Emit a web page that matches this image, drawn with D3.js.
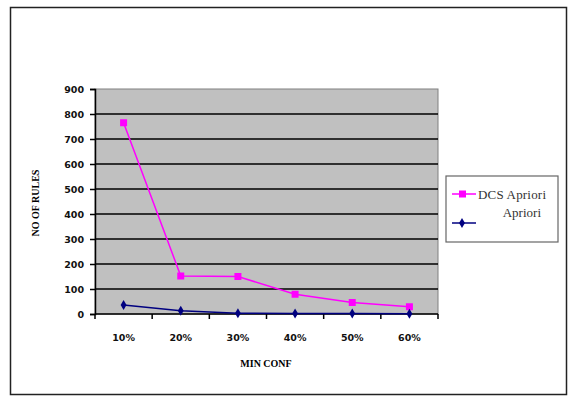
<!DOCTYPE html>
<html>
<head>
<meta charset="utf-8">
<script src="https://cdn.jsdelivr.net/npm/d3@7"></script>
<style>
  body { margin: 0; background: #fff; }
</style>
</head>
<body>
<svg id="chart" width="570" height="396"></svg>
<script>
// chart data
const categories = ['10%', '20%', '30%', '40%', '50%', '60%'];
const dcsApriori = [765, 152, 150, 79, 46, 29];
const apriori = [36, 13, 3, 2, 2, 1];
const yTicks = [0, 100, 200, 300, 400, 500, 600, 700, 800, 900];
const seriesNames = ['DCS Apriori', 'Apriori'];

const svg = d3.select('#chart');
const plot = { left: 95, right: 438, top: 89, bottom: 314 };
const sans = '"DejaVu Sans", sans-serif';
const serif = '"Liberation Serif", serif';

// outer frame
svg.append('rect')
  .attr('x', 10.5).attr('y', 7.5)
  .attr('width', 556).attr('height', 387)
  .attr('fill', 'none').attr('stroke', '#222').attr('stroke-width', 1.5);

const xScale = d3.scaleBand().domain(categories).range([plot.left, plot.right]);
const yScale = d3.scaleLinear().domain([0, 900]).range([plot.bottom, plot.top]);

// plot area
svg.append('rect')
  .attr('x', plot.left).attr('y', plot.top)
  .attr('width', plot.right - plot.left).attr('height', plot.bottom - plot.top)
  .attr('fill', '#c0c0c0').attr('stroke', '#808080');

// gridlines
svg.append('g')
  .selectAll('line')
  .data(yTicks.filter(d => d > 0 && d < 900))
  .join('line')
  .attr('x1', plot.left).attr('x2', plot.right)
  .attr('y1', d => yScale(d)).attr('y2', d => yScale(d))
  .attr('stroke', '#000').attr('stroke-width', 1.6);

// y axis
const yAxis = svg.append('g')
  .attr('transform', `translate(${plot.left},0)`)
  .call(d3.axisLeft(yScale).tickValues(yTicks).tickSize(5).tickPadding(6));
yAxis.select('.domain').attr('stroke', '#000').attr('stroke-width', 1.5);
yAxis.selectAll('.tick line').attr('stroke', '#000').attr('stroke-width', 1.5);
yAxis.selectAll('text')
  .style('font-family', sans).style('font-size', '9.5px').style('font-weight', 600)
  .attr('fill', '#111');

// x axis, ticks between categories
const xAxis = svg.append('g')
  .attr('transform', `translate(0,${plot.bottom})`);
xAxis.append('line')
  .attr('x1', plot.left).attr('x2', plot.right)
  .attr('stroke', '#000').attr('stroke-width', 1.5);
const edges = categories.map(c => xScale(c)).concat([plot.right]);
xAxis.selectAll('.xtick')
  .data(edges)
  .join('line')
  .attr('class', 'xtick')
  .attr('x1', d => d).attr('x2', d => d)
  .attr('y1', 0).attr('y2', 5)
  .attr('stroke', '#000').attr('stroke-width', 1.5);
xAxis.selectAll('.xlabel')
  .data(categories)
  .join('text')
  .attr('class', 'xlabel')
  .attr('x', d => xScale(d) + xScale.bandwidth() / 2)
  .attr('y', 27)
  .attr('text-anchor', 'middle')
  .style('font-family', sans).style('font-size', '9.5px').style('font-weight', 600)
  .attr('fill', '#111')
  .text(d => d);

// axis titles
svg.append('text')
  .attr('x', 266).attr('y', 367)
  .attr('text-anchor', 'middle')
  .style('font-family', serif).style('font-weight', 'bold').style('font-size', '10px')
  .text('MIN CONF');
svg.append('text')
  .attr('transform', 'translate(39,203) rotate(-90)')
  .attr('text-anchor', 'middle')
  .style('font-family', serif).style('font-weight', 'bold').style('font-size', '10px')
  .text('NO OF RULES');

const cx = (d, i) => xScale(categories[i]) + xScale.bandwidth() / 2;
const line = d3.line().x(cx).y(d => yScale(d));

// DCS Apriori series
svg.append('path')
  .datum(dcsApriori)
  .attr('d', line)
  .attr('fill', 'none').attr('stroke', '#ff00ff').attr('stroke-width', 1.5);
svg.append('g')
  .selectAll('rect')
  .data(dcsApriori)
  .join('rect')
  .attr('x', (d, i) => cx(d, i) - 3.5)
  .attr('y', d => yScale(d) - 3.5)
  .attr('width', 7).attr('height', 7)
  .attr('fill', '#ff00ff');

// Apriori series
svg.append('path')
  .datum(apriori)
  .attr('d', line)
  .attr('fill', 'none').attr('stroke', '#000080').attr('stroke-width', 1.5);
svg.append('g')
  .selectAll('path')
  .data(apriori)
  .join('path')
  .attr('d', d3.symbol(d3.symbolDiamond, 30))
  .attr('transform', (d, i) => `translate(${cx(d, i)},${yScale(d)})`)
  .attr('fill', '#000080');

// legend
const legend = svg.append('g');
legend.append('rect')
  .attr('x', 446).attr('y', 176)
  .attr('width', 112).attr('height', 66)
  .attr('fill', '#fff').attr('stroke', '#666').attr('stroke-width', 1.2);
const legendColors = ['#ff00ff', '#000080'];
const legendY = [194, 223];
seriesNames.forEach((name, i) => {
  legend.append('line')
    .attr('x1', 452).attr('x2', 476)
    .attr('y1', legendY[i]).attr('y2', legendY[i])
    .attr('stroke', legendColors[i]).attr('stroke-width', 1.5);
  if (i === 0) {
    legend.append('rect')
      .attr('x', 459).attr('y', legendY[i] - 3.5)
      .attr('width', 7).attr('height', 7).attr('fill', legendColors[i]);
  } else {
    legend.append('path')
      .attr('d', d3.symbol(d3.symbolDiamond, 30))
      .attr('transform', `translate(462,${legendY[i]})`)
      .attr('fill', legendColors[i]);
  }
});
legend.append('text')
  .attr('x', 478).attr('y', 199)
  .attr('textLength', 68)
  .style('font-family', serif).style('font-size', '13px')
  .attr('fill', '#333')
  .text(seriesNames[0]);
legend.append('text')
  .attr('x', 541).attr('y', 217)
  .attr('text-anchor', 'end')
  .style('font-family', serif).style('font-size', '13px')
  .attr('fill', '#333')
  .text(seriesNames[1]);
</script>
</body>
</html>
